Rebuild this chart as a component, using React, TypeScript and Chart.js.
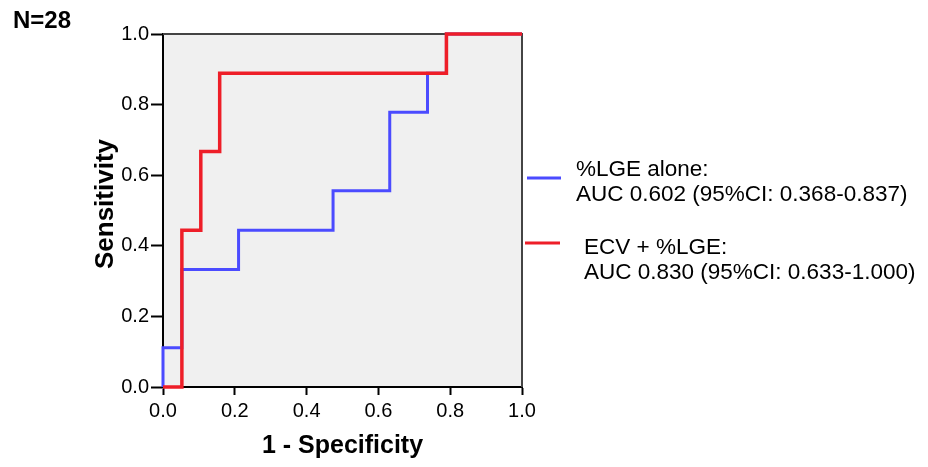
import React, { useEffect, useRef } from "react";
import { Chart, registerables } from "chart.js";

Chart.register(...registerables);

// ROC curve vertices (1 - specificity, sensitivity)
const FPR_LGE = [0, 0, 0.0526, 0.0526, 0.2105, 0.2105, 0.4737, 0.4737, 0.6316, 0.6316, 0.7368, 0.7368, 0.7895, 0.7895, 1.0];
const TPR_LGE = [0, 0.111, 0.111, 0.333, 0.333, 0.444, 0.444, 0.556, 0.556, 0.778, 0.778, 0.889, 0.889, 1.0, 1.0];

const FPR_COMB = [0, 0.0526, 0.0526, 0.1053, 0.1053, 0.1579, 0.1579, 0.7895, 0.7895, 1.0];
const TPR_COMB = [0, 0, 0.444, 0.444, 0.667, 0.667, 0.889, 0.889, 1.0, 1.0];

const TICKS = [0, 0.2, 0.4, 0.6, 0.8, 1.0];

const LEGEND_LGE = ["%LGE alone:", "AUC 0.602 (95%CI: 0.368-0.837)"];
const LEGEND_COMB = ["ECV + %LGE:", "AUC 0.830 (95%CI: 0.633-1.000)"];

const X_TITLE = "1 - Specificity";
const Y_TITLE = "Sensitivity";
const N_LABEL = "N=28";

const BLUE = "rgb(75,75,255)";
const RED = "rgb(238,30,40)";
const FONT = "'Liberation Sans', Arial, sans-serif";

export default function App() {
  const ref = useRef<HTMLCanvasElement>(null);

  useEffect(() => {
    const canvas = ref.current!;
    const decor = {
      id: "decor",
      beforeDraw(chart: any) {
        const { ctx, chartArea: a } = chart;
        ctx.save();
        ctx.fillStyle = "#f0f0f0";
        ctx.fillRect(a.left, a.top, a.right - a.left, a.bottom - a.top);
        ctx.restore();
      },
      beforeDatasetsDraw(chart: any) {
        const { ctx, chartArea: a } = chart;
        ctx.save();
        ctx.strokeStyle = "#444";
        ctx.lineWidth = 2;
        ctx.beginPath();
        ctx.moveTo(a.left, a.top);
        ctx.lineTo(a.right, a.top);
        ctx.lineTo(a.right, a.bottom);
        ctx.stroke();
        ctx.restore();
      },
      afterDraw(chart: any) {
        const { ctx, chartArea: a } = chart;
        ctx.save();
        ctx.fillStyle = "#000";
        ctx.textBaseline = "middle";
        // N label
        ctx.font = `bold 24px ${FONT}`;
        ctx.textAlign = "left";
        ctx.fillText(N_LABEL, 13, 21);
        // x title
        ctx.font = `bold 25px ${FONT}`;
        ctx.textAlign = "center";
        ctx.fillText(X_TITLE, (a.left + a.right) / 2, 446);
        // y title
        ctx.save();
        ctx.font = `bold 26px ${FONT}`;
        ctx.translate(106, 204);
        ctx.rotate(-Math.PI / 2);
        ctx.fillText(Y_TITLE, 0, 0);
        ctx.restore();
        // legend
        ctx.lineWidth = 3;
        ctx.strokeStyle = BLUE;
        ctx.beginPath();
        ctx.moveTo(527, 178);
        ctx.lineTo(561, 178);
        ctx.stroke();
        ctx.strokeStyle = RED;
        ctx.beginPath();
        ctx.moveTo(525, 243);
        ctx.lineTo(560, 243);
        ctx.stroke();
        ctx.font = `22.5px ${FONT}`;
        ctx.textAlign = "left";
        ctx.fillText(LEGEND_LGE[0], 576, 170);
        ctx.fillText(LEGEND_LGE[1], 576, 195);
        ctx.fillText(LEGEND_COMB[0], 584, 248);
        ctx.fillText(LEGEND_COMB[1], 584, 273);
        ctx.restore();
      },
    };

    const chart = new Chart(canvas, {
      type: "line",
      data: {
        datasets: [
          {
            label: LEGEND_COMB.join(" "),
            data: FPR_COMB.map((x, i) => ({ x, y: TPR_COMB[i] })),
            borderColor: RED,
            borderWidth: 3.5,
            pointRadius: 0,
            fill: false,
            tension: 0,
            clip: 6,
          },
          {
            label: LEGEND_LGE.join(" "),
            data: FPR_LGE.map((x, i) => ({ x, y: TPR_LGE[i] })),
            borderColor: BLUE,
            borderWidth: 3,
            pointRadius: 0,
            fill: false,
            tension: 0,
            clip: 6,
          },
        ],
      },
      options: {
        responsive: false,
        animation: false,
        layout: { padding: { left: 0, top: 34, right: 406, bottom: 0 } },
        plugins: { legend: { display: false }, tooltip: { enabled: false } },
        scales: {
          x: {
            type: "linear",
            min: 0,
            max: 1,
            afterBuildTicks: (s: any) => {
              s.ticks = TICKS.map((v) => ({ value: v }));
            },
            afterFit: (s: any) => {
              s.height = 80;
            },
            ticks: {
              color: "#000",
              font: { family: FONT, size: 20 },
              padding: 4,
              callback: (v: any) => Number(v).toFixed(1),
            },
            grid: { drawOnChartArea: false, tickLength: 8, tickColor: "#000", tickWidth: 2 },
            border: { color: "#000", width: 2 },
          },
          y: {
            type: "linear",
            min: 0,
            max: 1,
            afterBuildTicks: (s: any) => {
              s.ticks = TICKS.map((v) => ({ value: v }));
            },
            afterFit: (s: any) => {
              s.width = 163;
            },
            ticks: {
              color: "#000",
              font: { family: FONT, size: 20 },
              padding: 2,
              callback: (v: any) => Number(v).toFixed(1),
            },
            grid: { drawOnChartArea: false, tickLength: 12, tickColor: "#000", tickWidth: 2 },
            border: { color: "#000", width: 2 },
          },
        },
      },
      plugins: [decor],
    });
    return () => chart.destroy();
  }, []);

  return (
    <div style={{ position: "fixed", left: 0, top: 0, width: 928, height: 467, background: "#fff" }}>
      <canvas ref={ref} width={928} height={467} />
    </div>
  );
}
